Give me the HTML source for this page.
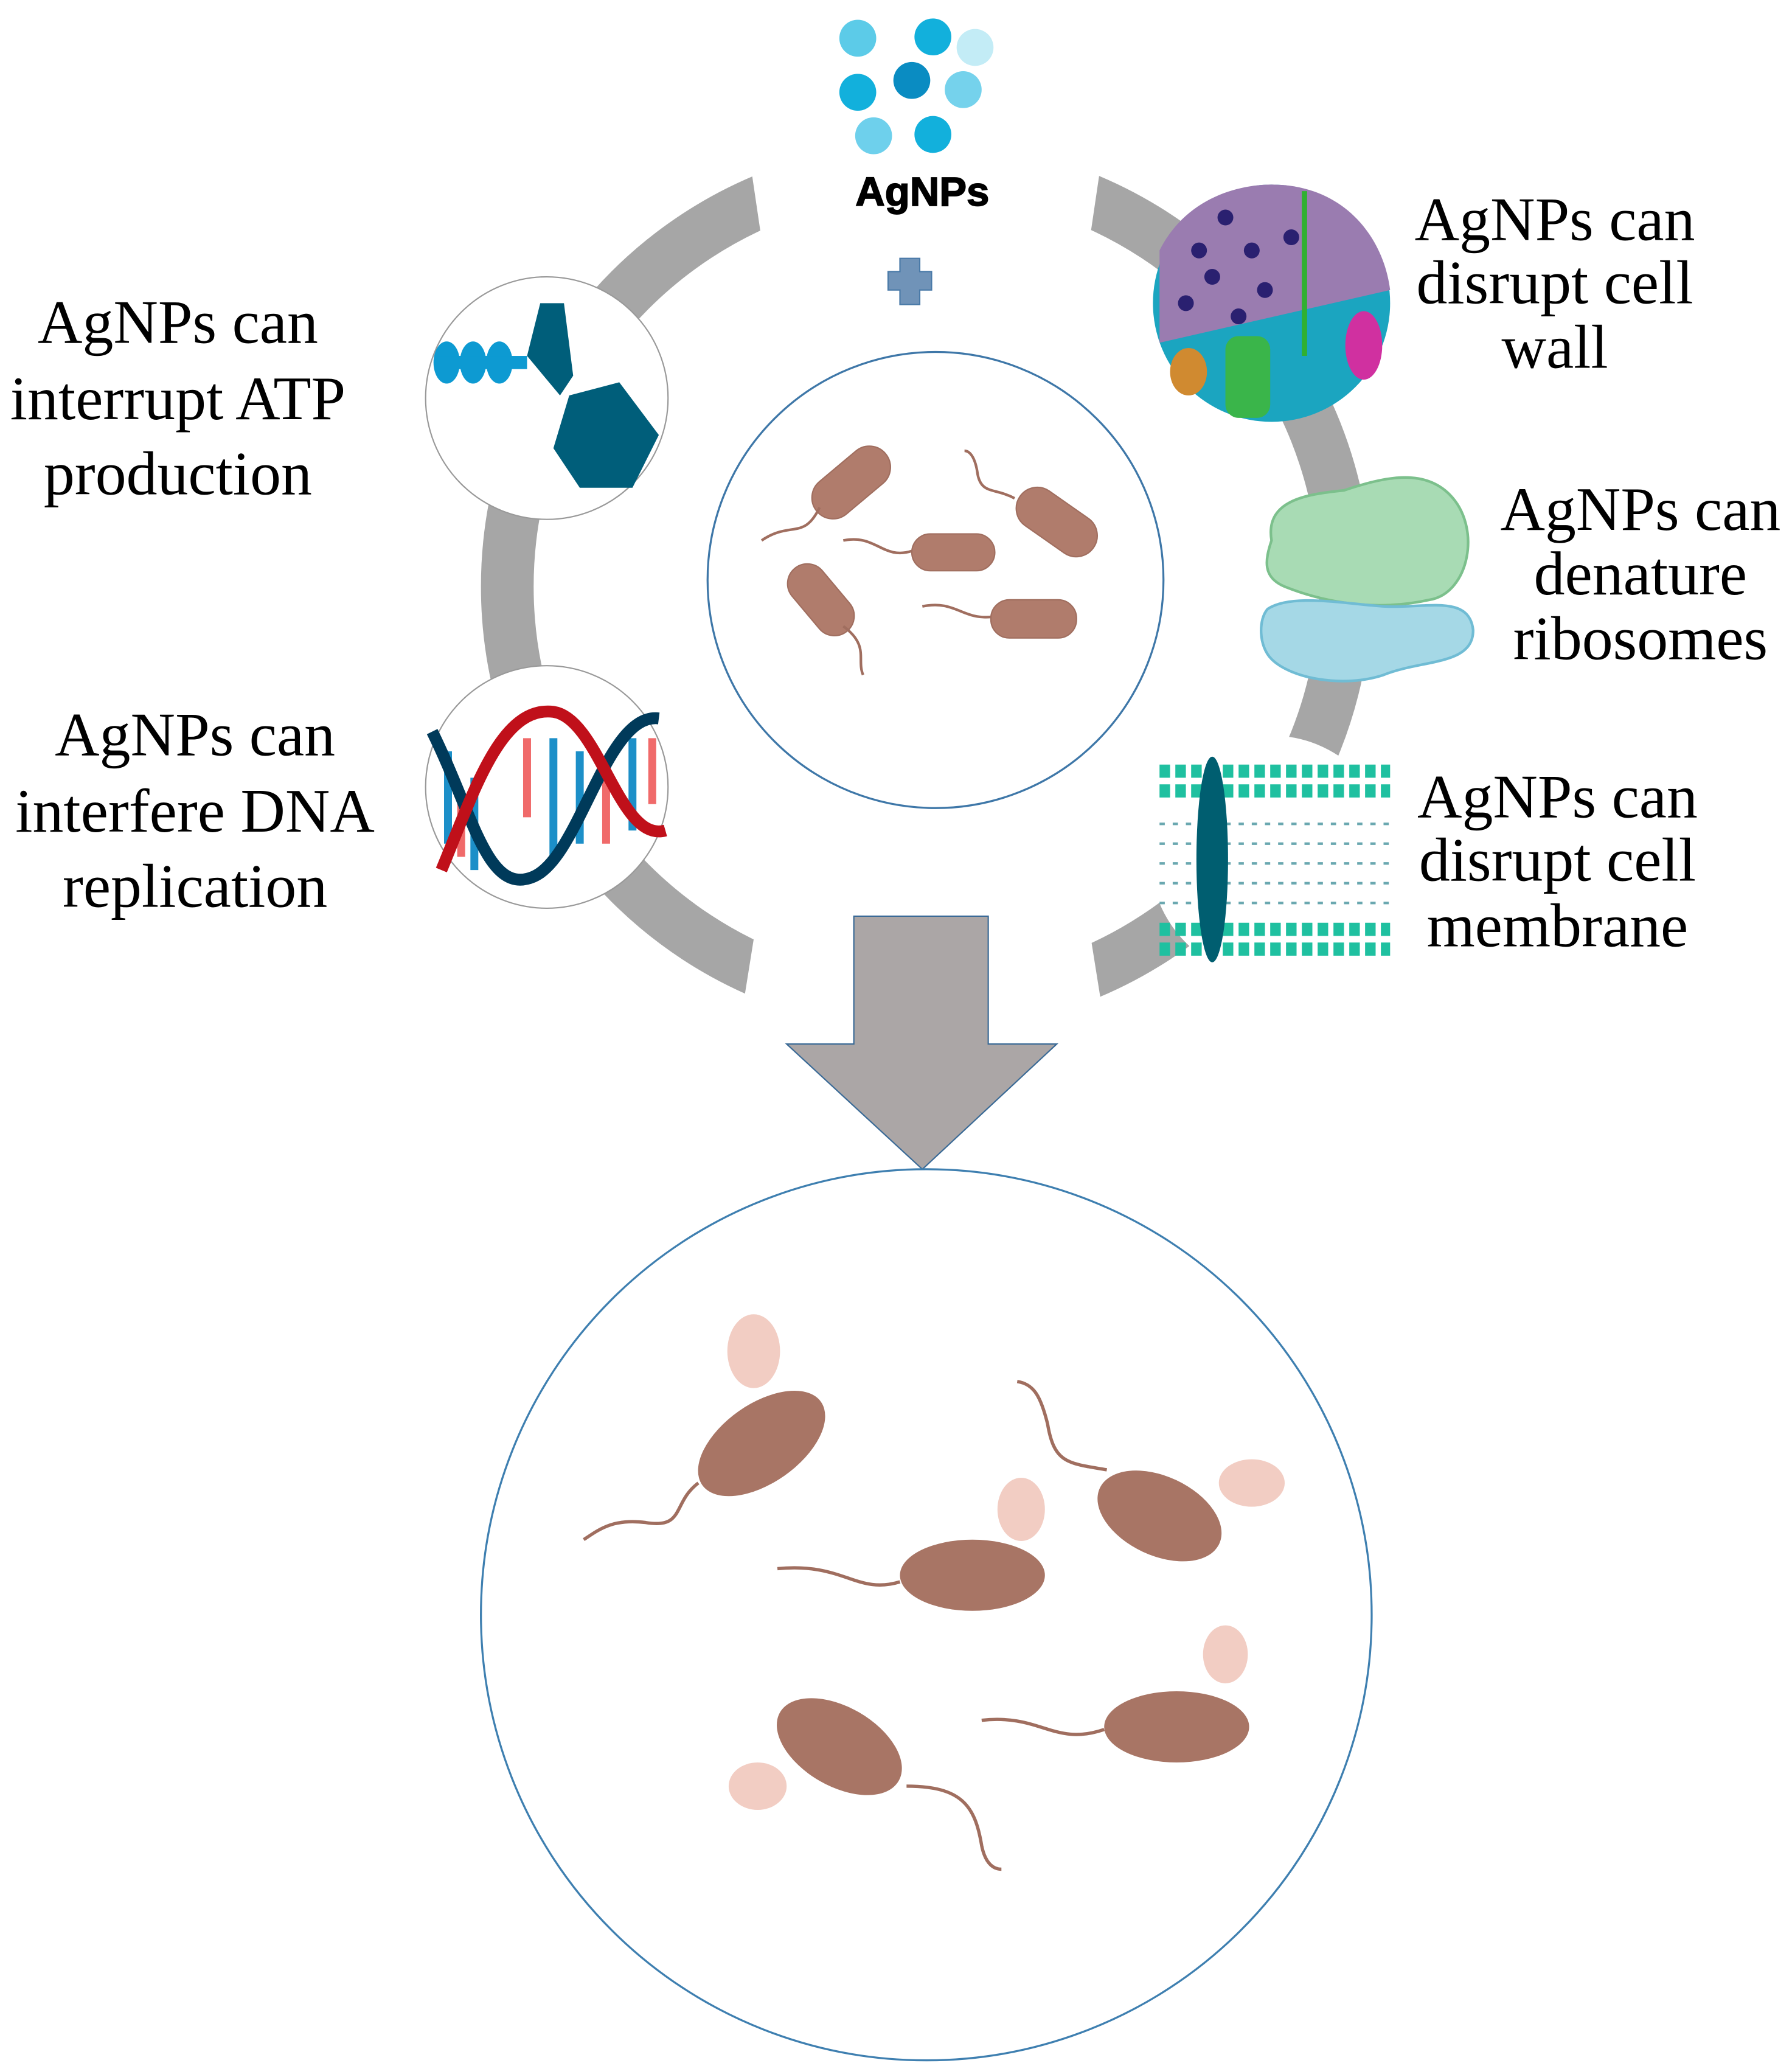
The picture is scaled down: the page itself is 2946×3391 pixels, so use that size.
<!DOCTYPE html>
<html><head><meta charset="utf-8"><style>
html,body{margin:0;padding:0;background:#fff}
svg{display:block}
.t{font-family:"Liberation Serif",serif;font-size:47px;fill:#000}
</style></head><body>
<svg width="2946" height="3391" viewBox="0 0 1360 1565" preserveAspectRatio="none" xmlns="http://www.w3.org/2000/svg">
<rect width="1360" height="1565" fill="#fff"/>
<!-- ring -->
<circle cx="703" cy="445" r="318" fill="none" stroke="#a6a6a6" stroke-width="40"/>
<polygon points="560,60 845,60 828,175 700,150 577,175" fill="#fff"/>
<polygon points="574,700 826,700 842,800 558,800" fill="#fff"/>
<!-- AgNPs dots -->
<g>
<circle cx="651" cy="29" r="14" fill="#5ccbe8"/>
<circle cx="708" cy="28" r="14" fill="#12b0dc"/>
<circle cx="740" cy="36" r="14" fill="#c3ecf6"/>
<circle cx="651" cy="70" r="14" fill="#12b0dc"/>
<circle cx="692" cy="61" r="14" fill="#0a8cc2"/>
<circle cx="731" cy="68" r="14" fill="#75d2ec"/>
<circle cx="663" cy="103" r="14" fill="#6ed0ec"/>
<circle cx="708" cy="102" r="14" fill="#12b0dc"/>
</g>
<text x="700" y="156" text-anchor="middle" font-family="Liberation Sans,sans-serif" font-weight="bold" font-size="31" stroke="#000" stroke-width="0.8">AgNPs</text>
<path d="M683,196h15v10h9v14h-9v11h-15v-11h-9v-14h9z" fill="#7093b8" stroke="#4a7aa8" stroke-width="1"/>
<!-- center circle -->
<circle cx="710" cy="440" r="173" fill="#fff" stroke="#3e77a8" stroke-width="1.5"/>
<g fill="#b07c6c" stroke="#a06e5f" stroke-width="1">
<rect x="612" y="350" width="68" height="32" rx="16" transform="rotate(-40 646 366)"/>
<rect x="768" y="380" width="68" height="32" rx="16" transform="rotate(35 802 396)"/>
<rect x="692" y="405" width="63" height="28" rx="14"/>
<rect x="592" y="440" width="62" height="30" rx="15" transform="rotate(50 623 455)"/>
<rect x="752" y="455" width="65" height="29" rx="14"/>
</g>
<g fill="none" stroke="#a06e5f" stroke-width="2">
<path d="M622,385 C610,410 600,395 578,410"/>
<path d="M770,378 C755,370 745,375 742,360 C740,345 735,342 732,342"/>
<path d="M692,418 C670,425 665,405 640,410"/>
<path d="M640,475 C660,490 650,500 655,512"/>
<path d="M752,468 C730,470 725,455 700,460"/>
</g>
<!-- ATP circle -->
<circle cx="415" cy="302" r="92" fill="#fff" stroke="#999" stroke-width="1"/>
<g fill="#0d9ad2"><ellipse cx="339" cy="275" rx="10" ry="16"/><ellipse cx="359" cy="275" rx="10" ry="16"/><ellipse cx="379" cy="275" rx="10" ry="16"/></g>
<rect x="330" y="270" width="70" height="10" fill="#0d9ad2"/>
<polygon points="410,230 428,230 435,285 425,300 400,270" fill="#005e7a"/>
<polygon points="432,300 470,290 500,330 480,370 440,370 420,340" fill="#005e7a"/>
<!-- DNA circle -->
<circle cx="415" cy="597" r="92" fill="#fff" stroke="#999" stroke-width="1"/>
<g stroke-width="6">
<g stroke="#1c8fc8"><line x1="340" y1="570" x2="340" y2="640"/><line x1="360" y1="590" x2="360" y2="660"/><line x1="420" y1="560" x2="420" y2="650"/><line x1="440" y1="570" x2="440" y2="640"/><line x1="480" y1="560" x2="480" y2="630"/></g>
<g stroke="#f06a6a"><line x1="350" y1="600" x2="350" y2="650"/><line x1="400" y1="560" x2="400" y2="620"/><line x1="460" y1="575" x2="460" y2="640"/><line x1="495" y1="560" x2="495" y2="610"/></g>
</g>
<path d="M328,555 C360,620 370,680 405,665 C440,650 460,540 500,545" fill="none" stroke="#003a5a" stroke-width="9"/>
<path d="M335,660 C360,600 380,535 420,540 C455,545 470,640 505,630" fill="none" stroke="#c0101a" stroke-width="9"/>
<!-- cell wall -->
<circle cx="965" cy="230" r="90" fill="#1ba5c0"/>
<path d="M880,190 C900,150 940,140 965,140 C1020,140 1050,180 1055,220 L880,260 Z" fill="#9a7cb0"/>
<g fill="#2a2070"><circle cx="930" cy="165" r="6"/><circle cx="950" cy="190" r="6"/><circle cx="920" cy="210" r="6"/><circle cx="960" cy="220" r="6"/><circle cx="900" cy="230" r="6"/><circle cx="940" cy="240" r="6"/><circle cx="980" cy="180" r="6"/><circle cx="910" cy="190" r="6"/></g>
<rect x="930" y="255" width="34" height="62" rx="10" fill="#3ab54a"/>
<ellipse cx="902" cy="282" rx="14" ry="18" fill="#d08a30"/>
<ellipse cx="1035" cy="262" rx="14" ry="26" fill="#d030a0"/>
<line x1="990" y1="145" x2="990" y2="270" stroke="#30b030" stroke-width="4"/>
<!-- ribosome -->
<path d="M965,410 C960,380 990,375 1020,372 C1050,362 1080,355 1100,375 C1125,400 1115,450 1085,455 C1040,465 1000,455 975,445 C958,438 960,425 965,410Z" fill="#a8dbb4" stroke="#7cc08c" stroke-width="2"/>
<path d="M962,462 C980,450 1020,458 1050,460 C1080,462 1115,450 1118,478 C1118,505 1080,500 1050,512 C1020,522 980,515 965,500 C955,490 955,470 962,462Z" fill="#a5d8e6" stroke="#70bcd4" stroke-width="2"/>
<!-- membrane -->
<circle cx="965" cy="650" r="92" fill="#fff"/>
<g>
<path d="M880,585 H1055 M880,600 H1055 M880,705 H1055 M880,720 H1055" stroke="#1fc0a0" stroke-width="10" stroke-dasharray="8 4"/>
<path d="M880,625 H1055 M880,640 H1055 M880,655 H1055 M880,670 H1055 M880,685 H1055" stroke="#6aa8b0" stroke-width="2" stroke-dasharray="4 6"/>
</g>
<ellipse cx="920" cy="652" rx="12" ry="78" fill="#005e70"/>
<!-- arrow -->
<polygon points="648,695 750,695 750,792 802,792 700,887 597,792 648,792" fill="#aba6a6" stroke="#3a6a96" stroke-width="1"/>
<!-- big circle -->
<circle cx="703" cy="1225" r="338" fill="#fff" stroke="#3e7fb0" stroke-width="1.5"/>
<g fill="#a87565">
<ellipse cx="578" cy="1095" rx="55" ry="30" transform="rotate(-35 578 1095)"/>
<ellipse cx="880" cy="1150" rx="50" ry="30" transform="rotate(25 880 1150)"/>
<ellipse cx="738" cy="1195" rx="55" ry="27"/>
<ellipse cx="637" cy="1325" rx="52" ry="30" transform="rotate(30 637 1325)"/>
<ellipse cx="893" cy="1310" rx="55" ry="27"/>
</g>
<g fill="#f0c4b8" opacity="0.85">
<ellipse cx="572" cy="1025" rx="20" ry="28"/>
<ellipse cx="950" cy="1125" rx="25" ry="18"/>
<ellipse cx="775" cy="1145" rx="18" ry="24"/>
<ellipse cx="575" cy="1355" rx="22" ry="18"/>
<ellipse cx="930" cy="1255" rx="17" ry="22"/>
</g>
<g fill="none" stroke="#a06e5f" stroke-width="2.5">
<path d="M530,1125 C510,1140 520,1160 490,1155 C465,1152 455,1160 443,1168"/>
<path d="M840,1115 C810,1110 800,1110 795,1080 C790,1060 785,1050 772,1048"/>
<path d="M683,1200 C650,1210 640,1185 590,1190"/>
<path d="M688,1355 C730,1355 740,1370 745,1400 C748,1415 755,1418 760,1418"/>
<path d="M838,1312 C800,1325 790,1300 745,1305"/>
</g>
<!-- labels -->
<g class="t" text-anchor="middle">
<text x="135" y="260">AgNPs can</text>
<text x="135" y="318">interrupt ATP</text>
<text x="135" y="375">production</text>
<text x="148" y="573">AgNPs can</text>
<text x="148" y="631">interfere DNA</text>
<text x="148" y="688">replication</text>
<text x="1180" y="182">AgNPs can</text>
<text x="1180" y="230">disrupt cell</text>
<text x="1180" y="279">wall</text>
<text x="1245" y="402">AgNPs can</text>
<text x="1245" y="451">denature</text>
<text x="1245" y="500">ribosomes</text>
<text x="1182" y="620">AgNPs can</text>
<text x="1182" y="668">disrupt cell</text>
<text x="1182" y="718">membrane</text>
</g>
</svg>
</body></html>
